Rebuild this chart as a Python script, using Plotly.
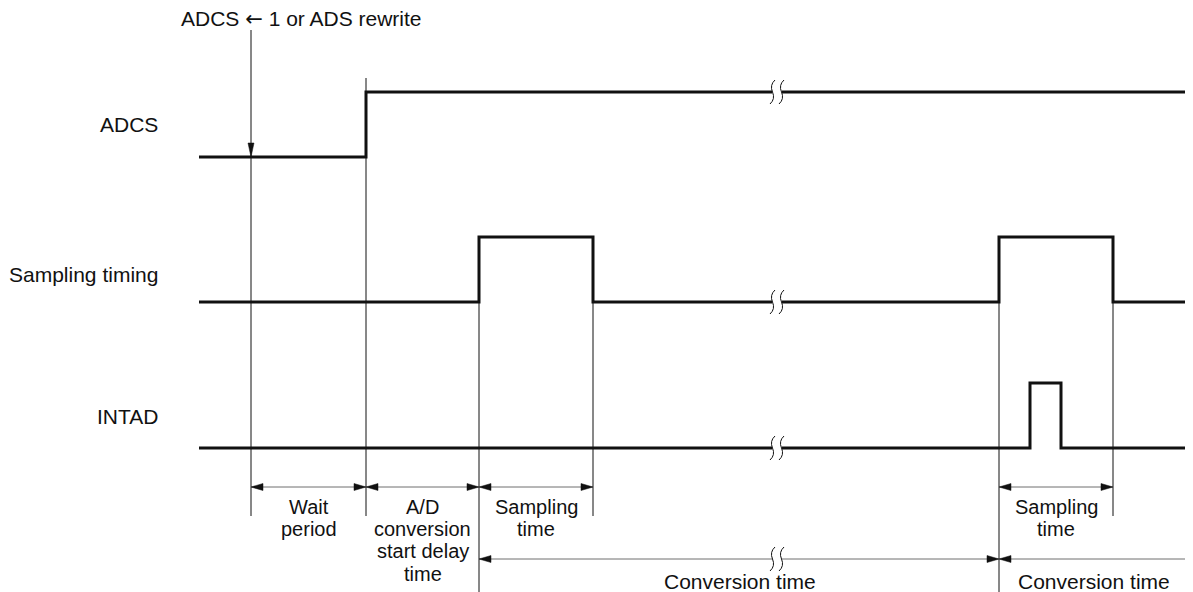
import plotly.graph_objects as go

# ---------------- data (time axis in diagram units) ----------------
signal_names = ["ADCS", "Sampling timing", "INTAD"]
adcs_t = [199, 366, 1190]
adcs_v = [0, 1, 1]
samp_t = [199, 479, 593, 999, 1113, 1190]
samp_v = [0, 1, 0, 1, 0, 0]
intad_t = [199, 1030, 1061, 1190]
intad_v = [0, 1, 0, 0]

trigger_t = 251
trigger_label = 'ADCS <span style="font-family:DejaVu Sans">\u2190</span> 1 or ADS rewrite'
edge_t = [251, 366, 479, 593, 999, 1113]

interval_start = [251, 366, 479, 999]
interval_end = [366, 479, 593, 1113]
interval_labels = [["Wait", "period"],
                   ["A/D", "conversion", "start delay", "time"],
                   ["Sampling", "time"],
                   ["Sampling", "time"]]

conv_start = [479, 999]
conv_end = [999, 1193]
conv_label = "Conversion time"
conv_label_t = [740, 1094]

break_t = 777

# ---------------- layout constants ----------------
W, H = 1193, 592
OFF = 8  # page body margin compensation
base_y = [157, 302, 448]
amp = 65
label_x = 159
label_y = [124, 274, 416]
edge_top = [30, 78, 303, 303, 303, 303]
edge_bot = [516, 516, 592, 516, 592, 516]
row1_y = 487
row2_y = 559
text_y0 = 506.5
line_pitch = 22.4
conv_text_y = 581
FONT = "Liberation Sans, Arial, sans-serif"
FS = 21
FS_DIM = 20
BLACK = "#111111"
GRAY = "#6e6e6e"

fig = go.Figure()

def add_line(xs, ys, color=BLACK, width=1, shape="linear"):
    fig.add_trace(go.Scatter(x=xs, y=ys, mode="lines", hoverinfo="skip",
                             line=dict(color=color, width=width, shape=shape),
                             showlegend=False))

def add_head(tx, ty, dx, dy, L=12, Wd=3.5):
    bx, by = tx - L * dx, ty - L * dy
    px, py = -dy, dx
    xs = [tx, bx + Wd * px, bx - Wd * px, tx]
    ys = [ty, by + Wd * py, by - Wd * py, ty]
    fig.add_trace(go.Scatter(x=xs, y=ys, mode="lines", fill="toself",
                             fillcolor=BLACK, line=dict(color=BLACK, width=0.5),
                             hoverinfo="skip", showlegend=False))

# vertical reference lines
for t, y0, y1 in zip(edge_t, edge_top, edge_bot):
    add_line([t, t], [y0, y1], color=BLACK, width=1)

# trigger arrow head pointing down onto ADCS low level
add_head(trigger_t, base_y[0], 0, 1, L=14, Wd=3)

# signals
for ts, vs, b in zip([adcs_t, samp_t, intad_t], [adcs_v, samp_v, intad_v], base_y):
    add_line(ts, [b - v * amp for v in vs], color=BLACK, width=3, shape="hv")

# dimension row 1
for s, e in zip(interval_start, interval_end):
    add_line([s, e], [row1_y, row1_y], color=GRAY, width=1)
    add_head(s, row1_y, -1, 0)
    add_head(e, row1_y, 1, 0)

# dimension row 2 (conversion time)
for s, e in zip(conv_start, conv_end):
    add_line([s, e], [row2_y, row2_y], color=GRAY, width=1)
    add_head(s, row2_y, -1, 0)
    if e < W:
        add_head(e, row2_y, 1, 0)

shapes = []
annotations = []

# break marks
break_rows = [base_y[0] - amp, base_y[1], base_y[2], row2_y]
for y in break_rows:
    shapes.append(dict(type="rect", xref="x", yref="y", x0=break_t - 5, x1=break_t + 5,
                       y0=y - 3, y1=y + 3, fillcolor="white", line=dict(width=0),
                       layer="above"))
    for cx in (break_t - 4.5, break_t + 4.5):
        path = (f"M {cx+2.5},{y-12} Q {cx-3},{y-7} {cx},{y} "
                f"Q {cx+3},{y+7} {cx-2.5},{y+12}")
        shapes.append(dict(type="path", xref="x", yref="y", path=path,
                           line=dict(color=BLACK, width=1), layer="above"))

def text(x, y, s, xanchor="center", size=FS):
    annotations.append(dict(x=x, y=y, xref="x", yref="y", text=s, showarrow=False,
                            xanchor=xanchor, yanchor="middle", borderpad=0,
                            font=dict(family=FONT, size=size, color=BLACK)))

for name, ly in zip(signal_names, label_y):
    text(label_x, ly, name, xanchor="right")

text(180, 19, trigger_label, xanchor="left")

for s, e, lines in zip(interval_start, interval_end, interval_labels):
    cx = (s + e) / 2
    for k, ln in enumerate(lines):
        text(cx, text_y0 + k * line_pitch, ln, size=FS_DIM)

for cx in conv_label_t:
    text(cx, conv_text_y, conv_label)

fig.update_layout(
    width=W - OFF, height=H - OFF, margin=dict(l=0, r=0, t=0, b=0, pad=0),
    paper_bgcolor="white", plot_bgcolor="white",
    xaxis=dict(range=[OFF, W], visible=False, fixedrange=True),
    yaxis=dict(range=[H, OFF], visible=False, fixedrange=True),
    shapes=shapes, annotations=annotations, showlegend=False,
)

fig.write_html("out.html")
